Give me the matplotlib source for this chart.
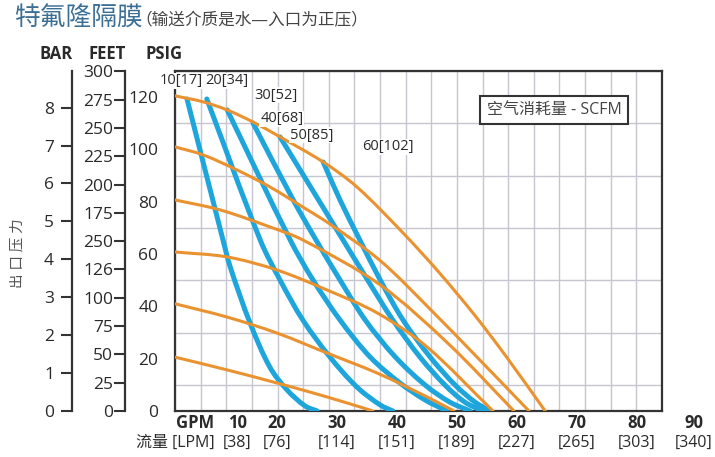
import matplotlib
matplotlib.use('Agg')
import matplotlib.pyplot as plt
import numpy as np
from matplotlib.path import Path
from matplotlib.patches import PathPatch

plt.rcParams['font.family'] = ['Open Sans', 'Noto Sans CJK SC', 'DejaVu Sans']

# Outlet pressure curves (orange), flow in GPM vs pressure in PSIG.
P120_GPM = [3.0, 7.7, 11.7, 16.0, 20.5, 27.7, 33.3, 41.0, 47.0, 53.0, 58.3, 64.7]
P120_PSI = [120.5, 118.2, 115.1, 110.5, 104.8, 95.2, 85.7, 68.1, 53.0, 36.5, 20.5, 0]
P100_GPM = [3.0, 7.7, 13.3, 18.8, 24.3, 28.8, 37.2, 45.5, 53.8, 62.0]
P100_PSI = [101, 97.9, 92.2, 85.7, 78.0, 71.5, 57.5, 39.0, 19.5, 0]
P80_GPM = [3.0, 10.5, 18.8, 24.3, 37.2, 48.8, 59.5]
P80_PSI = [80.7, 76.9, 70.4, 65.4, 48.2, 25.2, 0]
P60_GPM = [3.0, 11.7, 20.0, 28.3, 36.7, 45.0, 56.0]
P60_PSI = [60.8, 58.9, 53.9, 46.3, 37.5, 24.5, 0]
P40_GPM = [3.0, 11.7, 20.0, 28.3, 36.7, 45.0, 49.5]
P40_PSI = [41.0, 35.9, 29.8, 22.2, 14.5, 5.4, 0]
P20_GPM = [3.0, 11.7, 20.0, 28.3, 36.0]
P20_PSI = [20.6, 15.7, 10.7, 5.4, 0]

# Air consumption curves (blue), SCFM.
A10_GPM = [5.0, 11.0, 12.2, 15.5, 18.8, 21.7, 24.7, 26.7]
A10_PSI = [119.3, 65.4, 55.1, 33.7, 16.8, 8.0, 1.9, 0]
A20_GPM = [8.3, 17.2, 20.5, 24.3, 28.8, 33.3, 37.2, 39.3]
A20_PSI = [119.3, 65.4, 50.1, 34.8, 20.7, 9.2, 2.3, 0]
A30_GPM = [11.7, 22.2, 26.0, 30.5, 35.5, 40.5, 44.7, 48.3]
A30_PSI = [115.1, 65.4, 50.1, 34.8, 20.7, 10.7, 4.2, 0]
A40_GPM = [16.0, 22.7, 26.5, 30.5, 34.7, 39.7, 44.7, 48.8, 52.2]
A40_PSI = [110.1, 80.7, 65.4, 50.1, 34.8, 20.7, 9.9, 3.4, 0]
A50_GPM = [20.5, 31.0, 35.1, 39.3, 43.8, 48.0, 51.3, 54.3]
A50_PSI = [104.8, 65.4, 50.1, 34.8, 20.7, 9.9, 3.4, 0]
A60_GPM = [27.7, 30.5, 33.8, 37.2, 41.0, 45.5, 49.7, 53.0, 55.5]
A60_PSI = [95.2, 80.7, 65.4, 50.1, 34.8, 20.7, 9.9, 3.4, 0]

AIR_LABELS = ['10[17]', '20[34]', '30[52]', '40[68]', '50[85]', '60[102]']
AIR_LABEL_GPM = [0.5, 8.0, 16.3, 17.2, 22.2, 34.2]
AIR_LABEL_PSI = [126.2, 126.2, 120.8, 111.7, 105.5, 101.0]

PSI_TICKS = [0, 20, 40, 60, 80, 100, 120]
BAR_TICKS = [0, 1, 2, 3, 4, 5, 6, 7, 8]
FEET_TICKS = [300, 275, 250, 225, 200, 175, 150, 125, 100, 75, 50, 25, 0]
FEET_LABELS = ['300', '275', '250', '225', '200', '175', '250', '126', '100', '75', '50', '25', '0']

GPM_LABELS = ['10', '20', '30', '40', '50', '60', '70', '80', '90']
LPM_LABELS = ['[38]', '[76]', '[114]', '[151]', '[189]', '[227]', '[265]', '[303]', '[340]']
GPM_LABEL_POS = [13.4, 20, 30, 40, 50, 60, 70, 80, 89.5]

ORANGE = '#eb9230'
BLUE = '#1ea6dc'
DARK = '#2a2a2a'


def smooth_path(ax, xs, ys):
    # chord-length Hermite curve through the read points, built in screen space
    pts = ax.transData.transform(np.column_stack([xs, ys]))
    n = len(pts)
    d = np.hypot(*np.diff(pts, axis=0).T)
    tang = np.zeros_like(pts)
    tang[0] = (pts[1] - pts[0]) / d[0]
    tang[-1] = (pts[-1] - pts[-2]) / d[-1]
    for i in range(1, n - 1):
        tang[i] = (pts[i + 1] - pts[i - 1]) / (d[i - 1] + d[i])
    verts = [pts[0]]
    codes = [Path.MOVETO]
    for i in range(n - 1):
        verts += [pts[i] + tang[i] * d[i] / 3, pts[i + 1] - tang[i + 1] * d[i] / 3, pts[i + 1]]
        codes += [Path.CURVE4] * 3
    verts = ax.transData.inverted().transform(np.array(verts))
    return Path(verts, codes)


fig = plt.figure(figsize=(7.15, 4.57), dpi=100)
ax = fig.add_axes([175 / 715, 1 - 411 / 457, 487 / 715, 340 / 457])
xmin, xmax = 3.0, 84.17
ax.set_xlim(xmin, xmax)
ax.set_ylim(0, 130)

# grid
ax.set_xticks(np.linspace(xmin, xmax, 20), minor=True)
ax.set_yticks(np.arange(0, 131, 10), minor=True)
ax.grid(which='minor', color='#c6c6d0', linewidth=1.0)
ax.tick_params(which='minor', length=0)
ax.set_xticks([])
ax.set_yticks(PSI_TICKS)
ax.tick_params(axis='y', which='major', length=0, pad=12, labelsize=12.5, labelcolor=DARK)
for s in ax.spines.values():
    s.set_color('#333333')
    s.set_linewidth(1.6)

for gx, py in [(A10_GPM, A10_PSI), (A20_GPM, A20_PSI), (A30_GPM, A30_PSI),
               (A40_GPM, A40_PSI), (A50_GPM, A50_PSI), (A60_GPM, A60_PSI)]:
    ax.add_patch(PathPatch(smooth_path(ax, gx, py), facecolor='none', edgecolor=BLUE,
                           linewidth=3.6, capstyle='round', joinstyle='round', zorder=3))

for gx, py in [(P120_GPM, P120_PSI), (P100_GPM, P100_PSI), (P80_GPM, P80_PSI),
               (P60_GPM, P60_PSI), (P40_GPM, P40_PSI), (P20_GPM, P20_PSI)]:
    ax.add_patch(PathPatch(smooth_path(ax, gx, py), facecolor='none', edgecolor=ORANGE,
                           linewidth=2.2, capstyle='round', joinstyle='round', zorder=4))

for lab, gx, py in zip(AIR_LABELS, AIR_LABEL_GPM, AIR_LABEL_PSI):
    ax.text(gx, py, lab, fontsize=10.5, color=DARK, va='center', ha='left', clip_on=False,
            zorder=6, bbox=dict(facecolor='white', edgecolor='none', pad=0.5))

ax.text((554 - 175) / 487, (411 - 110) / 340, '空气消耗量 - SCFM', transform=ax.transAxes,
        fontsize=11.5, color='#444444', ha='center', va='center', zorder=6,
        bbox=dict(boxstyle='square,pad=0.4', facecolor='white', edgecolor='#333333', linewidth=1.5))

# bottom labels
xt = ax.get_xaxis_transform()
for lab, pos in zip(GPM_LABELS, GPM_LABEL_POS):
    ax.text(pos, -0.035, lab, transform=xt, ha='center', va='center', fontsize=12,
            fontweight='bold', color=DARK, clip_on=False)
for lab, pos in zip(LPM_LABELS, GPM_LABEL_POS):
    ax.text(pos, -0.094, lab, transform=xt, ha='center', va='center', fontsize=11.5,
            color=DARK, clip_on=False)
ax.text(6.3, -0.035, 'GPM', transform=xt, ha='center', va='center', fontsize=12,
        fontweight='bold', color=DARK, clip_on=False)
ax.text(3.0, -0.094, '流量 [LPM]', transform=xt, ha='center', va='center', fontsize=11.5,
        color=DARK, clip_on=False)

# extra pressure scales
bar_ax = ax.secondary_yaxis((72 - 175) / 487, functions=(lambda p: p / 14.5, lambda b: b * 14.5))
bar_ax.set_yticks(BAR_TICKS)
feet_ax = ax.secondary_yaxis((125 - 175) / 487, functions=(lambda p: p * 2.31, lambda f: f / 2.31))
feet_ax.set_yticks(FEET_TICKS, labels=FEET_LABELS)
for sec, pad in [(bar_ax, 5), (feet_ax, 0.5)]:
    sec.tick_params(axis='y', direction='out', length=8, width=1.5, color='#333333',
                    labelsize=12.5, labelcolor=DARK, pad=pad)
    sec.spines['left'].set_linewidth(1.6)
    sec.spines['left'].set_color('#333333')

fig.text(56 / 715, 1 - 54 / 457, 'BAR', fontsize=12, fontweight='bold', color=DARK, ha='center', va='center')
fig.text(107 / 715, 1 - 54 / 457, 'FEET', fontsize=12, fontweight='bold', color=DARK, ha='center', va='center')
fig.text(164 / 715, 1 - 54 / 457, 'PSIG', fontsize=12, fontweight='bold', color=DARK, ha='center', va='center')

fig.text(18 / 715, 1 - 253 / 457, '出 口 压 力', rotation=90, fontsize=10.5, color='#555555',
         ha='center', va='center')

fig.text(14 / 715, 1 - 19 / 457, '特氟隆隔膜', fontsize=18.5, color='#3c6f96', ha='left', va='center')
fig.text(135 / 715, 1 - 21 / 457, '（输送介质是水—入口为正压）', fontsize=12, color='#444444',
         ha='left', va='center')

fig.savefig('out.png', dpi=100)
